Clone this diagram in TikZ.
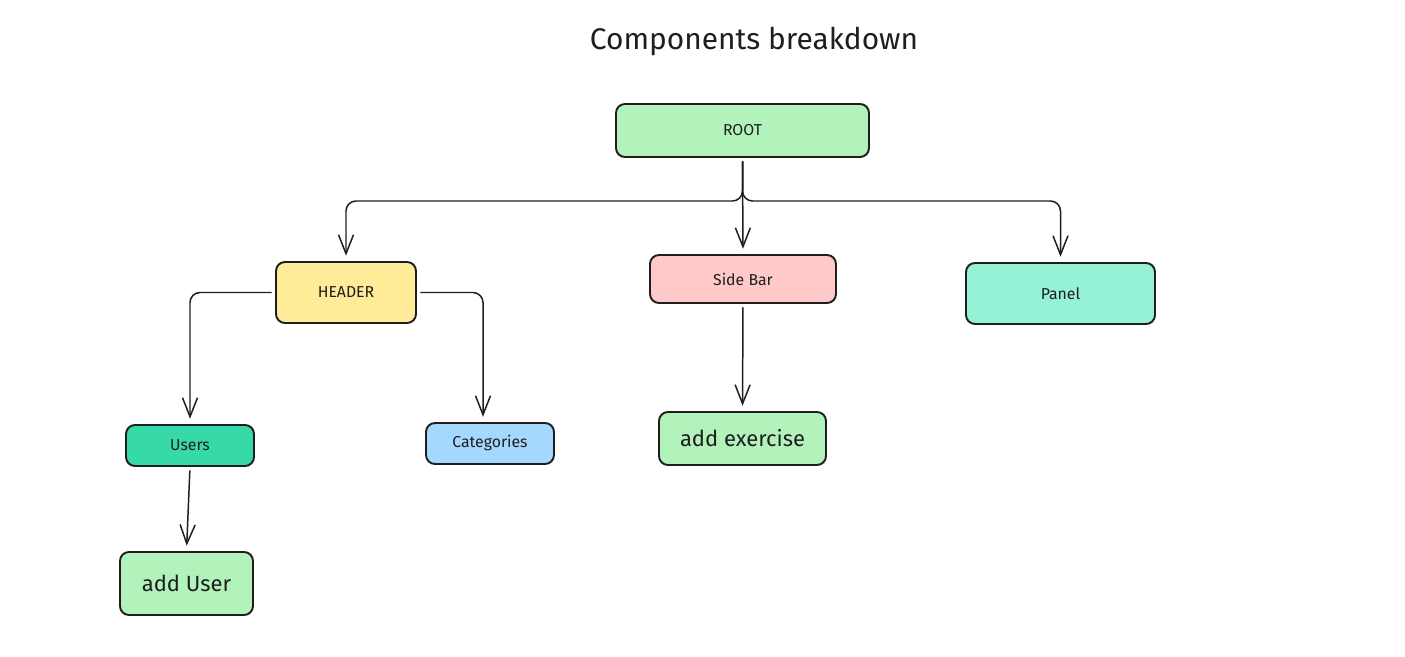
\documentclass[tikz,border=0pt]{standalone}
\usepackage{fontspec}
\setmainfont{Fira Sans}
\usetikzlibrary{arrows.meta}
\usetikzlibrary{calc}
\usepackage{xcolor}

\definecolor{ink}{HTML}{1E1E1E}
\definecolor{mint}{HTML}{B2F2BB}
\definecolor{sand}{HTML}{FFEC99}
\definecolor{rose}{HTML}{FFC9C9}
\definecolor{aqua}{HTML}{96F2D7}
\definecolor{teal}{HTML}{38D9A9}
\definecolor{sky}{HTML}{A5D8FF}

\begin{document}
\begin{tikzpicture}[>={Straight Barb[length=0.38cm,width=0.3cm]},
    box/.style={draw=ink, line width=1.1pt, rounded corners=0.18cm, text=ink, font=\fontsize{9}{11}\selectfont},
    bigbox/.style={box, font=\fontsize{12.5}{15}\selectfont},
    link/.style={->, draw=ink, line width=0.85pt, rounded corners=0.2cm, shorten <=2pt, shorten >=3pt}]
      % page
      \useasboundingbox (0,0) rectangle (28.1,-13.14);

      % title
      \node [name=title, text=ink, font=\fontsize{17}{20}\selectfont] at (15.08,-0.82) {Components breakdown};

      % top level
      \node [box, fill=mint, minimum width=5.06cm, minimum height=1.06cm, name=root] at
      (14.85,-2.61) {ROOT};
      \coordinate (split) at (0,-4.02);

      % second level
      \node [box, fill=sand, minimum width=2.8cm, minimum height=1.22cm, name=header] at
      (6.92,-5.85) {HEADER};
      \node [box, fill=rose, minimum width=3.72cm, minimum height=0.96cm, name=sidebar] at
      (14.86,-5.58) {Side Bar};
      \node [box, fill=aqua, minimum width=3.78cm, minimum height=1.22cm, name=panel] at
      (21.21,-5.87) {Panel};

      % third level
      \node [box, fill=teal, minimum width=2.56cm, minimum height=0.82cm, name=users] at
      (3.8,-8.91) {Users};
      \node [box, fill=sky, minimum width=2.56cm, minimum height=0.82cm, name=categories] at
      (9.8,-8.87) {Categories};
      \node [bigbox, fill=mint, minimum width=3.34cm, minimum height=1.06cm, name=addexercise] at
      (14.85,-8.77) {add exercise};

      % fourth level
      \node [bigbox, fill=mint, minimum width=2.66cm, minimum height=1.26cm, name=adduser] at
      (3.73,-11.67) {add User};

      % links
      \draw [link] (root.south) -- (root.south |- split) -| (header.north);
      \draw [link] (root.south) -- (sidebar.north);
      \draw [link] (root.south) -- (root.south |- split) -| (panel.north);
      \draw [link] (header.west) -| (users.north);
      \draw [link] (header.east) -| ($(categories.north) + (-0.14,0)$);
      \draw [link] (users.south) -- (adduser.north);
      \draw [link] (sidebar.south) -- (addexercise.north);
\end{tikzpicture}
\end{document}
